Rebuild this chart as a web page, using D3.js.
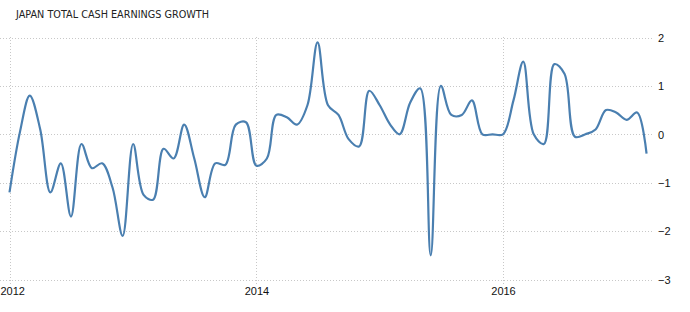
<!DOCTYPE html>
<html>
<head>
<meta charset="utf-8">
<script src="https://cdn.jsdelivr.net/npm/d3@7"></script>
<style>
  body { margin: 0; background: #fff; }
  #chart text { font-family: "Liberation Sans", Arial, sans-serif; }
</style>
</head>
<body>
<div id="chart"></div>
<script>
// monthly values, Jan 2012 .. Mar 2017
var startMonth = "2012-01";
var values = [
    -1.2, 0.05, 0.8, 0.1, -1.2, -0.6, -1.7, -0.2, -0.7, -0.6, -1.1, -2.1,   // 2012
    -0.2, -1.25, -1.35, -0.3, -0.5, 0.2, -0.5, -1.3, -0.6, -0.63, 0.2, 0.25, // 2013
    -0.65, -0.5, 0.4, 0.35, 0.2, 0.6, 1.9, 0.6, 0.4, -0.1, -0.25, 0.9,      // 2014
    0.6, 0.2, 0.0, 0.65, 0.95, -2.5, 1.0, 0.4, 0.4, 0.7, 0.0, 0.0,          // 2015
    0.0, 0.7, 1.5, 0.0, -0.2, 1.45, 1.25, -0.05, 0.0, 0.1, 0.5, 0.45,       // 2016
    0.3, 0.45, -0.4                                                         // 2017
];
var yTicks = [2, 1, 0, -1, -2, -3];
var xTickYears = [2012, 2014, 2016];
var title = "JAPAN TOTAL CASH EARNINGS GROWTH";

var parseMonth = d3.timeParse("%Y-%m");
var t0 = parseMonth(startMonth);
var data = values.map(function (v, i) {
    return { date: d3.timeMonth.offset(t0, i), value: v };
});

var width = 690, height = 312;
var svg = d3.select("#chart").append("svg")
    .attr("width", width)
    .attr("height", height);

var xscale = d3.scaleTime()
    .domain([parseMonth("2012-01"), parseMonth("2016-01")])
    .range([9.5, 503]);
var yscale = d3.scaleLinear().domain([-3, 2]).range([279.5, 37.5]);

svg.append("text")
    .attr("x", 16)
    .attr("y", 18)
    .attr("fill", "#222")
    .attr("textLength", 193)
    .attr("lengthAdjust", "spacingAndGlyphs")
    .style("font-family", "'DejaVu Sans', sans-serif")
    .style("font-size", "10.5px")
    .text(title);

// horizontal grid + right labels
var yAxis = d3.axisRight(yscale)
    .tickValues(yTicks)
    .tickSize(0)
    .tickPadding(0)
    .tickFormat(d3.format("d"));

var gy = svg.append("g").attr("transform", "translate(658,0)").call(yAxis);
gy.select(".domain").remove();
gy.selectAll("text").attr("fill", "#111").style("font-size", "11px").attr("dy", "0.35em");

svg.append("g").selectAll("line").data(yTicks).enter()
    .append("line")
    .attr("x1", 0)
    .attr("x2", 653)
    .attr("y1", function (d) { return Math.round(yscale(d)) + 0.5; })
    .attr("y2", function (d) { return Math.round(yscale(d)) + 0.5; })
    .attr("stroke", "#c8c8c8")
    .attr("stroke-dasharray", "1,2");

// vertical grid + year labels
var yearDates = xTickYears.map(function (y) { return new Date(y, 0, 1); });
var xAxis = d3.axisBottom(xscale)
    .tickValues(yearDates)
    .tickSize(0)
    .tickPadding(0)
    .tickFormat(d3.timeFormat("%Y"));

var gx = svg.append("g").attr("transform", "translate(0,287)").call(xAxis);
gx.select(".domain").remove();
gx.selectAll("text").attr("fill", "#111").style("font-size", "11px");
// first label sits on the left edge
gx.selectAll("text").filter(function (d, i) { return i === 0; })
    .attr("text-anchor", "start")
    .attr("x", -9.5);

svg.append("g").selectAll("line").data(yearDates).enter()
    .append("line")
    .attr("x1", function (d) { return Math.round(xscale(d)) + 0.5; })
    .attr("x2", function (d) { return Math.round(xscale(d)) + 0.5; })
    .attr("y1", 37)
    .attr("y2", 284)
    .attr("stroke", "#c8c8c8")
    .attr("stroke-dasharray", "1,2");

// the series
var line = d3.line()
    .x(function (d) { return xscale(d.date); })
    .y(function (d) { return yscale(d.value); })
    .curve(d3.curveCatmullRom.alpha(0.5));

svg.append("path")
    .datum(data)
    .attr("d", line)
    .attr("fill", "none")
    .attr("stroke", "#4a7fb0")
    .attr("stroke-width", 2.2)
    .attr("stroke-linejoin", "round");
</script>
</body>
</html>
